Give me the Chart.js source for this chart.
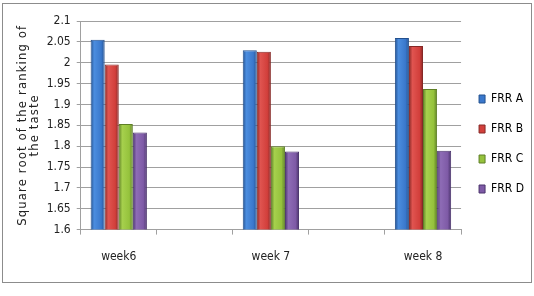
<!DOCTYPE html>
<html>
<head>
<meta charset="utf-8">
<script src="https://cdn.jsdelivr.net/npm/chart.js@4/dist/chart.umd.min.js"></script>
<style>
  html, body { margin: 0; padding: 0; background: #fff; }
  #wrap { position: relative; width: 534px; height: 296px; }
  #frame {
    position: absolute; left: 2px; top: 3px; width: 528px; height: 278px;
    border: 1.5px solid #8c8c8c; pointer-events: none;
  }
  canvas { position: absolute; left: 0; top: 0; }
</style>
</head>
<body>
<div id="wrap">
  <canvas id="chart" width="534" height="296"></canvas>
  <div id="frame"></div>
</div>
<script>
// categories (empty slots keep the wide gaps between the weeks)
const weeks = ['week6', '', 'week 7', '', 'week 8'];

// series values
const frrA = [2.055, null, 2.030, null, 2.059];
const frrB = [1.996, null, 2.026, null, 2.040];
const frrC = [1.853, null, 1.800, null, 1.937];
const frrD = [1.833, null, 1.787, null, 1.789];

const seriesNames = ['FRR A', 'FRR B', 'FRR C', 'FRR D'];
const seriesFill = ['#3a78cc', '#d23f3b', '#95c23c', '#7e5aa6'];
const seriesLight = ['#4b8ddf', '#e05450', '#a6d04d', '#8e6cb6'];
const seriesEdge = ['#23508e', '#862826', '#5e7f26', '#4a336c'];

// y axis
const yMin = 1.6;
const yMax = 2.1;
const yStep = 0.05;

const FONT = "'DejaVu Sans Condensed', 'Liberation Sans Narrow', sans-serif";

// soft left-to-right shading, like the office 3d bars
function barShade(i) {
  return (c) => {
    const el = c.element;
    if (!el || el.x == null || !el.width) return seriesFill[i];
    const x0 = el.x - el.width / 2;
    const g = c.chart.ctx.createLinearGradient(x0, 0, x0 + el.width, 0);
    g.addColorStop(0, seriesEdge[i]);
    g.addColorStop(0.25, seriesLight[i]);
    g.addColorStop(0.75, seriesFill[i]);
    g.addColorStop(1, seriesEdge[i]);
    return g;
  };
}

const datasets = [frrA, frrB, frrC, frrD].map((vals, i) => ({
  label: seriesNames[i],
  data: vals,
  backgroundColor: barShade(i),
  borderColor: seriesEdge[i],
  borderWidth: 1,
  categoryPercentage: 0.74,
  barPercentage: 1.0
}));

// nudge the legend up a little, the original sits slightly above centre
const legendNudge = {
  id: 'legendNudge',
  afterLayout(chart) {
    const lg = chart.legend;
    if (!lg) return;
    lg.top -= 6;
    lg.bottom -= 6;
  }
};

const chart = new Chart(document.getElementById('chart'), {
  type: 'bar',
  data: { labels: weeks, datasets: datasets },
  plugins: [legendNudge],
  options: {
    responsive: false,
    animation: false,
    layout: { padding: { top: 21, left: 16, right: 0, bottom: 17 } },
    plugins: {
      tooltip: { enabled: false },
      legend: {
        position: 'right',
        labels: {
          font: { family: FONT, size: 12 },
          color: '#222',
          boxWidth: 6,
          boxHeight: 8,
          padding: 18,
          generateLabels: (ch) => seriesNames.map((name, i) => ({
            text: name,
            fillStyle: seriesFill[i],
            strokeStyle: seriesEdge[i],
            lineWidth: 1,
            datasetIndex: i
          }))
        }
      }
    },
    scales: {
      x: {
        offset: true,
        grid: {
          offset: true,
          drawOnChartArea: false,
          drawTicks: true,
          tickLength: 5,
          color: '#a0a0a0'
        },
        border: { color: '#a0a0a0' },
        ticks: {
          font: { family: FONT, size: 12 },
          color: '#222',
          padding: 15,
          autoSkip: false,
          maxRotation: 0
        }
      },
      y: {
        min: yMin,
        max: yMax,
        grid: { color: '#a0a0a0', tickLength: 4 },
        border: { color: '#a0a0a0' },
        ticks: {
          stepSize: yStep,
          font: { family: FONT, size: 12 },
          color: '#222',
          padding: 6,
          callback: v => String(Number(v.toFixed(2)))
        },
        title: {
          display: true,
          text: ['Square root of the ranking of', 'the taste'],
          font: { family: FONT, size: 13, lineHeight: 0.95 },
          color: '#222',
          padding: { top: 0, bottom: 0 }
        }
      }
    }
  }
});

// the axis title in the original is letter-spaced
const yScale = chart.scales.y;
const plainTitle = yScale.drawTitle;
yScale.drawTitle = function () {
  const ctx = this.ctx;
  ctx.save();
  ctx.letterSpacing = '1.1px';
  plainTitle.apply(this, arguments);
  ctx.restore();
};

// second pass so the bar shading knows where each bar is
chart.update();
</script>
</body>
</html>
